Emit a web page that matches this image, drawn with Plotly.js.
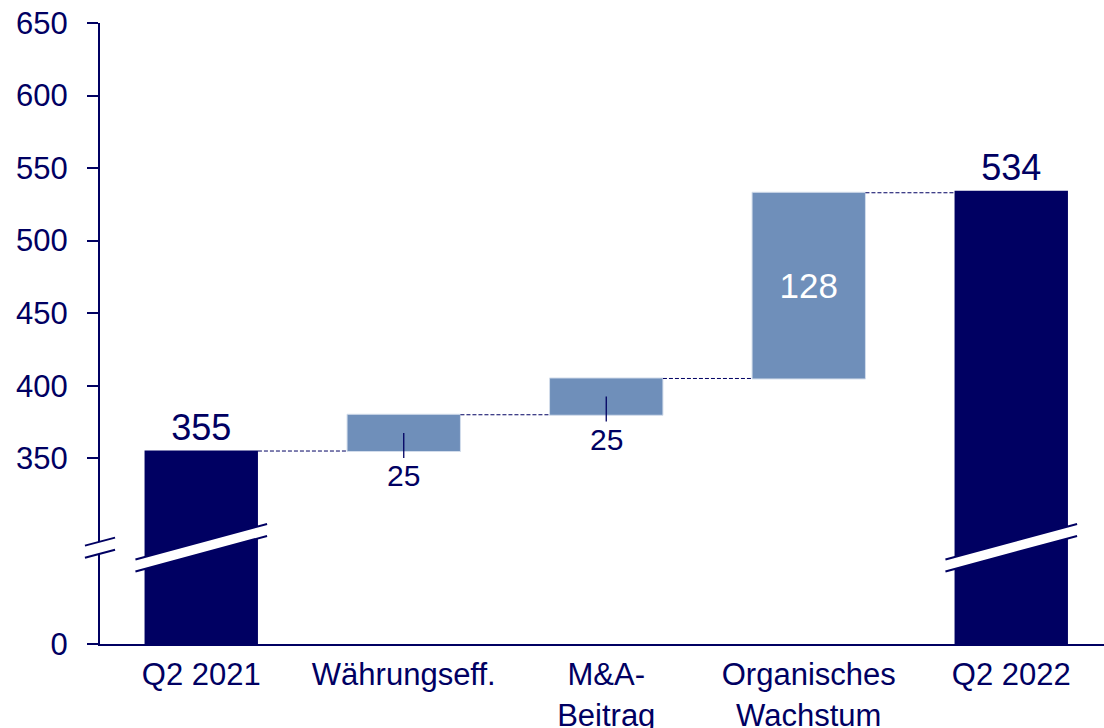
<!DOCTYPE html>
<html>
<head>
<meta charset="utf-8">
<script src="https://cdn.plot.ly/plotly-3.0.1.min.js"></script>
<style>
  html, body { margin: 0; padding: 0; background: #fff; }
  #chart { width: 1104px; height: 728px; }
</style>
</head>
<body>
<div id="chart"></div>
<script>
// chart data
const categories = ['Q2 2021', 'Währungseff.', 'M&A-<br>Beitrag', 'Organisches<br>Wachstum', 'Q2 2022'];
const measures = ['absolute', 'relative', 'relative', 'relative', 'absolute'];
const values = [355, 25, 25, 128, 534];
const labels = ['355', '25', '25', '128', '534'];
const yTickValues = [350, 400, 450, 500, 550, 600, 650];

// the axis is broken: everything between 0 and this value is cut out
const AXIS_ZERO = 222;
const Y_MAX = 650;

const NAVY = '#000062';
const LIGHT = '#6F8FBA';
const FONT = 'Arial, "Liberation Sans", sans-serif';

// positions of the labels
const textPos = ['outside', 'none', 'none', 'inside', 'outside'];
const barText = labels.map((l, i) => textPos[i] == 'none' ? '' : l);

// small labels under the bars, with a little line from the middle of the bar
let running = 0;
const annotations = [];
values.forEach((v, i) => {
  if (measures[i] == 'absolute') { running = v; return; }
  if (textPos[i] == 'none') {
    annotations.push({
      x: i, y: running + v / 2, xref: 'x', yref: 'y',
      text: labels[i], showarrow: true, arrowhead: 0, arrowwidth: 1.3,
      arrowcolor: NAVY, ax: 0, ay: 43, standoff: 0,
      font: {family: FONT, size: 30, color: NAVY}
    });
  }
  running += v;
});

// axis break marks
function toPaper(v) { return (v - AXIS_ZERO) / (Y_MAX - AXIS_ZERO); }
const shapes = [];
function addBreak(xref, yref, x0, x1, yl, yr, gap) {
  shapes.push({
    type: 'path', xref: xref, yref: yref, fillcolor: 'white', line: {width: 0},
    path: `M${x0},${yl} L${x1},${yr} L${x1},${yr + gap} L${x0},${yl + gap} Z`
  });
  shapes.push({
    type: 'path', xref: xref, yref: yref, line: {color: NAVY, width: 2},
    path: `M${x0},${yl} L${x1},${yr} M${x0},${yl + gap} L${x1},${yr + gap}`
  });
}
// across the y axis
addBreak('paper', 'paper', -0.015, 0.015, toPaper(281.5), toPaper(287), toPaper(8.3 + AXIS_ZERO));
// across the two total bars
values.forEach((v, i) => {
  if (measures[i] == 'absolute') addBreak('x', 'y', i - 0.325, i + 0.325, 272, 296.5, 8.2);
});

const trace = {
  type: 'waterfall',
  x: categories,
  y: values,
  measure: measures,
  text: barText,
  textposition: textPos,
  insidetextanchor: 'middle',
  insidetextfont: {family: FONT, size: 35, color: 'white'},
  outsidetextfont: {family: FONT, size: 36, color: NAVY},
  cliponaxis: false,
  hoverinfo: 'none',
  increasing: {marker: {color: LIGHT, line: {color: '#D3DDEB', width: 1}}},
  decreasing: {marker: {color: LIGHT}},
  totals: {marker: {color: NAVY, line: {width: 0}}},
  connector: {line: {color: NAVY, width: 1, dash: '4px,2px'}}
};

const layout = {
  width: 1104,
  height: 728,
  margin: {l: 100, r: 0, t: 23, b: 84},
  paper_bgcolor: 'white',
  plot_bgcolor: 'white',
  showlegend: false,
  waterfallgap: 0.44,
  font: {family: FONT, color: NAVY},
  xaxis: {
    type: 'category',
    range: [-0.5, 4.458],
    showline: true, linecolor: NAVY, linewidth: 2,
    ticks: '', showgrid: false, zeroline: false,
    ticklabelstandoff: 2,
    tickfont: {family: FONT, size: 31, color: NAVY}
  },
  yaxis: {
    range: [AXIS_ZERO, Y_MAX],
    tickvals: [AXIS_ZERO].concat(yTickValues),
    ticktext: ['0'].concat(yTickValues.map(String)),
    showline: true, linecolor: NAVY, linewidth: 2,
    ticks: 'outside', ticklen: 11, tickwidth: 2, tickcolor: NAVY,
    ticklabelstandoff: 13,
    showgrid: false, zeroline: false,
    tickfont: {family: FONT, size: 31, color: NAVY}
  },
  shapes: shapes,
  annotations: annotations
};

Plotly.newPlot('chart', [trace], layout, {staticPlot: true});
</script>
</body>
</html>
